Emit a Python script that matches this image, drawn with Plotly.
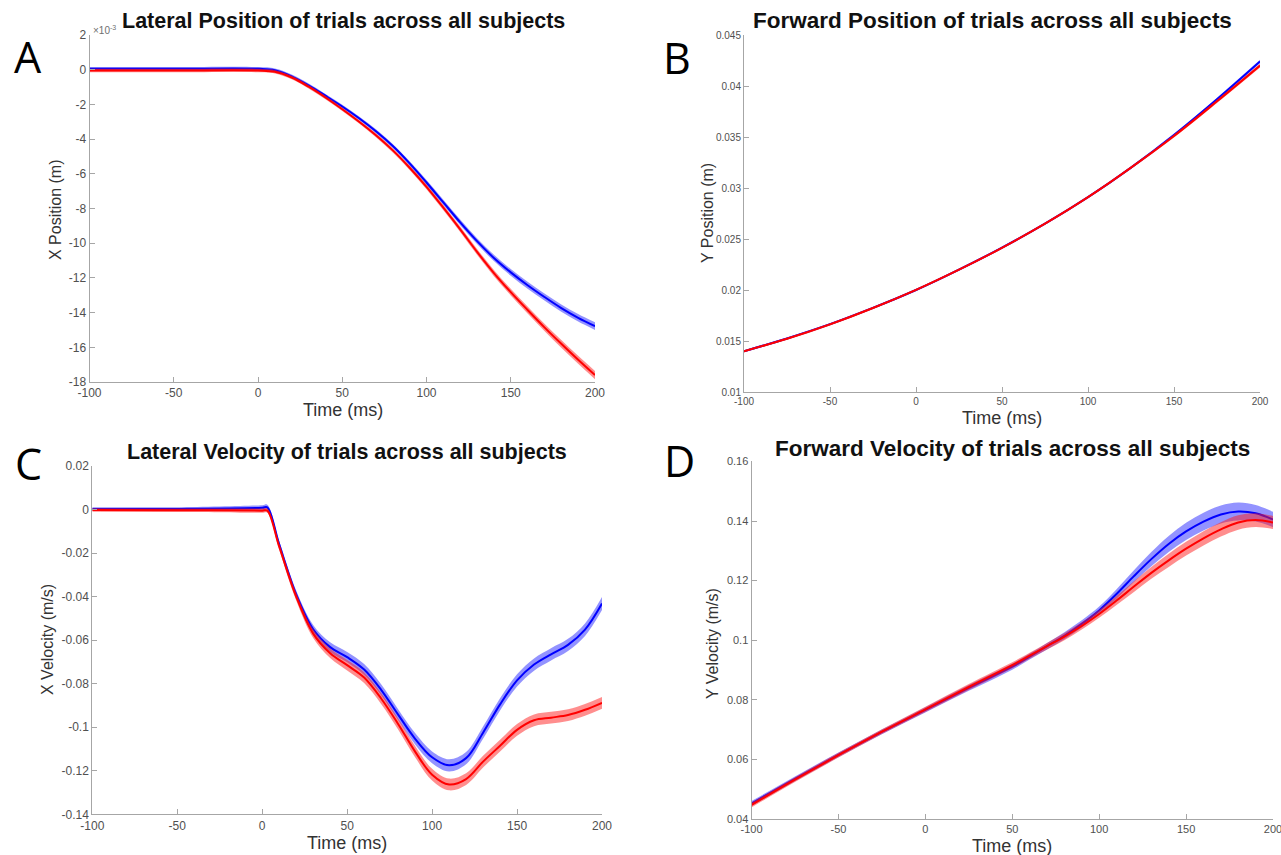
import plotly.graph_objects as go

# ---------------- data ----------------
# Panel A: lateral position (x 10^-3 m)
T_A = [-100, -50, 0, 10, 20, 30, 40, 50, 60, 70, 80, 90, 100, 110, 120, 130, 140, 150, 160, 170, 180, 190, 200]
A_blue = [0.05, 0.05, 0.05, -0.03, -0.38, -0.9, -1.5, -2.12, -2.8, -3.55, -4.4, -5.4, -6.5, -7.65, -8.8, -9.88, -10.85, -11.68, -12.42, -13.1, -13.74, -14.3, -14.78]
A_red = [-0.05, -0.05, -0.05, -0.12, -0.45, -0.98, -1.6, -2.28, -3.0, -3.78, -4.65, -5.65, -6.75, -7.95, -9.2, -10.5, -11.72, -12.82, -13.85, -14.85, -15.8, -16.72, -17.6]
A_blue_sem = [0.1, 0.1, 0.1, 0.1, 0.1, 0.1, 0.1, 0.1, 0.1, 0.12, 0.12, 0.13, 0.14, 0.15, 0.16, 0.17, 0.18, 0.19, 0.2, 0.2, 0.21, 0.22, 0.22]
A_red_sem = [0.1, 0.1, 0.1, 0.1, 0.1, 0.1, 0.1, 0.1, 0.1, 0.12, 0.12, 0.13, 0.14, 0.15, 0.16, 0.17, 0.18, 0.19, 0.2, 0.21, 0.22, 0.23, 0.24]

# Panel B: forward position (m)
T_B = [-100, -75, -50, -25, 0, 25, 50, 75, 100, 125, 150, 175, 200]
B_blue = [0.0140, 0.01525, 0.01665, 0.01825, 0.0200, 0.0220, 0.02415, 0.0265, 0.0291, 0.0320, 0.0352, 0.0387, 0.0424]
B_red = [0.0140, 0.01522, 0.01663, 0.01823, 0.02001, 0.02199, 0.02414, 0.0265, 0.0291, 0.0320, 0.0351, 0.0385, 0.0420]
B_blue_sem = [0.0001, 0.0001, 0.0001, 0.0001, 0.0001, 0.0001, 0.0001, 0.0001, 0.0001, 0.00012, 0.00014, 0.00016, 0.00018]
B_red_sem = [0.0001, 0.0001, 0.0001, 0.0001, 0.0001, 0.0001, 0.0001, 0.0001, 0.0001, 0.00012, 0.00014, 0.00016, 0.00018]

# Panel C: lateral velocity (m/s)
T_C = [-100, -50, 0, 3, 10, 20, 30, 40, 50, 60, 70, 80, 90, 100, 110, 120, 130, 140, 150, 160, 170, 180, 190, 200]
C_blue = [0.0003, 0.0003, 0.0008, 0.001, -0.016, -0.039, -0.055, -0.0632, -0.0678, -0.0735, -0.0828, -0.0942, -0.1053, -0.1138, -0.1175, -0.1142, -0.1025, -0.0895, -0.0785, -0.0712, -0.0665, -0.0622, -0.0552, -0.0432]
C_red = [-0.0002, -0.0003, -0.0005, -0.0005, -0.017, -0.040, -0.057, -0.066, -0.0715, -0.0772, -0.0868, -0.0985, -0.1112, -0.1218, -0.1263, -0.1238, -0.1158, -0.1085, -0.1012, -0.0968, -0.0956, -0.0944, -0.092, -0.0888]
C_blue_sem = [0.0008, 0.0008, 0.0012, 0.0012, 0.0015, 0.0018, 0.002, 0.0022, 0.0024, 0.0025, 0.0025, 0.0025, 0.0026, 0.0027, 0.0028, 0.0028, 0.0028, 0.0028, 0.0028, 0.0028, 0.0028, 0.0028, 0.0029, 0.003]
C_red_sem = [0.0008, 0.0008, 0.001, 0.001, 0.0015, 0.0018, 0.002, 0.0022, 0.0024, 0.0025, 0.0025, 0.0025, 0.0026, 0.0027, 0.0027, 0.0027, 0.0027, 0.0027, 0.0027, 0.0027, 0.0027, 0.0027, 0.0027, 0.0027]

# Panel D: forward velocity (m/s)
T_D = [-100, -75, -50, -25, 0, 25, 50, 60, 70, 80, 90, 100, 110, 120, 130, 140, 150, 160, 170, 180, 190, 200]
D_blue = [0.0452, 0.0535, 0.0615, 0.0692, 0.0766, 0.0840, 0.0911, 0.0945, 0.0980, 0.1015, 0.1055, 0.1100, 0.1155, 0.1215, 0.1272, 0.1323, 0.1365, 0.1398, 0.1422, 0.1432, 0.1426, 0.1405]
D_red = [0.0447, 0.0532, 0.0614, 0.0693, 0.0768, 0.0843, 0.0916, 0.0948, 0.0980, 0.1012, 0.1048, 0.1088, 0.1133, 0.1180, 0.1226, 0.1268, 0.1307, 0.1342, 0.1372, 0.1395, 0.1403, 0.1395]
D_blue_sem = [0.0008, 0.0008, 0.0008, 0.0008, 0.0009, 0.001, 0.001, 0.001, 0.0011, 0.0012, 0.0012, 0.0013, 0.0016, 0.002, 0.0024, 0.0027, 0.0029, 0.003, 0.003, 0.003, 0.0028, 0.0026]
D_red_sem = [0.0008, 0.0008, 0.0008, 0.0008, 0.0009, 0.001, 0.001, 0.001, 0.0011, 0.0012, 0.0012, 0.0013, 0.0015, 0.0018, 0.002, 0.0022, 0.0023, 0.0024, 0.0024, 0.0024, 0.0023, 0.0022]

# tick labels
X_TICKS = [-100, -50, 0, 50, 100, 150, 200]
X_TICKTEXT = ["-100", "-50", "0", "50", "100", "150", "200"]
A_YTICKS = [2, 0, -2, -4, -6, -8, -10, -12, -14, -16, -18]
A_YTEXT = ["2", "0", "-2", "-4", "-6", "-8", "-10", "-12", "-14", "-16", "-18"]
B_YTICKS = [0.01, 0.015, 0.02, 0.025, 0.03, 0.035, 0.04, 0.045]
B_YTEXT = ["0.01", "0.015", "0.02", "0.025", "0.03", "0.035", "0.04", "0.045"]
C_YTICKS = [0.02, 0, -0.02, -0.04, -0.06, -0.08, -0.1, -0.12, -0.14]
C_YTEXT = ["0.02", "0", "-0.02", "-0.04", "-0.06", "-0.08", "-0.1", "-0.12", "-0.14"]
D_YTICKS = [0.04, 0.06, 0.08, 0.1, 0.12, 0.14, 0.16]
D_YTEXT = ["0.04", "0.06", "0.08", "0.1", "0.12", "0.14", "0.16"]

TITLES = ["Lateral Position of trials across all subjects",
          "Forward Position of trials across all subjects",
          "Lateral Velocity of trials across all subjects",
          "Forward Velocity of trials across all subjects"]
YLABELS = ["X Position (m)", "Y Position (m)", "X Velocity (m/s)", "Y Velocity (m/s)"]
XLABEL = "Time (ms)"
LETTERS = ["A", "B", "C", "D"]

# ---------------- figure ----------------
W, H = 1281, 855
def px(x):
    return x / W
def py(y):
    return 1 - y / H

BLUE, RED = "#0000ff", "#ff0000"
BLUE_F, RED_F = "rgba(40,40,255,0.5)", "rgba(255,30,30,0.5)"
FONT = "Liberation Sans, Arial, sans-serif"

fig = go.Figure()

panels = [
    dict(t=T_A, blue=A_blue, red=A_red, bs=A_blue_sem, rs=A_red_sem,
         xd=(89.5, 595), yd=(35, 382), yr=(-18, 2), yt=A_YTICKS, ytt=A_YTEXT, tf=12),
    dict(t=T_B, blue=B_blue, red=B_red, bs=B_blue_sem, rs=B_red_sem,
         xd=(744, 1260), yd=(35, 392), yr=(0.01, 0.045), yt=B_YTICKS, ytt=B_YTEXT, tf=10),
    dict(t=T_C, blue=C_blue, red=C_red, bs=C_blue_sem, rs=C_red_sem,
         xd=(92.3, 602), yd=(466, 814.3), yr=(-0.14, 0.02), yt=C_YTICKS, ytt=C_YTEXT, tf=12),
    dict(t=T_D, blue=D_blue, red=D_red, bs=D_blue_sem, rs=D_red_sem,
         xd=(751.5, 1273), yd=(461.4, 819), yr=(0.04, 0.16), yt=D_YTICKS, ytt=D_YTEXT, tf=11),
]

for i, p in enumerate(panels):
    xa = "x" if i == 0 else f"x{i+1}"
    ya = "y" if i == 0 else f"y{i+1}"
    for vals, sem, lc, fc in [(p["blue"], p["bs"], BLUE, BLUE_F), (p["red"], p["rs"], RED, RED_F)]:
        lo = [v - s for v, s in zip(vals, sem)]
        hi = [v + s for v, s in zip(vals, sem)]
        fig.add_trace(go.Scatter(x=p["t"], y=lo, mode="lines", line=dict(width=0, color=fc, shape="spline", smoothing=1.0),
                                 xaxis=xa, yaxis=ya, showlegend=False, hoverinfo="skip"))
        fig.add_trace(go.Scatter(x=p["t"], y=hi, mode="lines", line=dict(width=0, color=fc, shape="spline", smoothing=1.0),
                                 fill="tonexty", fillcolor=fc,
                                 xaxis=xa, yaxis=ya, showlegend=False, hoverinfo="skip"))
        fig.add_trace(go.Scatter(x=p["t"], y=vals, mode="lines", line=dict(width=2, color=lc, shape="spline", smoothing=1.0),
                                 xaxis=xa, yaxis=ya, showlegend=False))

    axis_common = dict(showline=True, linecolor="#a6a6a6", linewidth=1, ticks="inside", ticklen=5,
                       tickcolor="#a6a6a6", showgrid=False, zeroline=False, automargin=False,
                       ticklabeloverflow="allow",
                       tickfont=dict(family=FONT, size=p["tf"], color="#505050"))
    xkey = "xaxis" if i == 0 else f"xaxis{i+1}"
    ykey = "yaxis" if i == 0 else f"yaxis{i+1}"
    fig.update_layout(**{
        xkey: dict(domain=[px(p["xd"][0]), px(p["xd"][1])], range=[-100, 200], anchor=ya,
                   tickvals=X_TICKS, ticktext=X_TICKTEXT, **axis_common),
        ykey: dict(domain=[py(p["yd"][1]), py(p["yd"][0])], range=list(p["yr"]), anchor=xa,
                   tickvals=p["yt"], ticktext=p["ytt"], **axis_common),
    })

ann = []
# x10^-3 exponent label for panel A
ann.append(dict(x=px(91), y=py(30), xref="paper", yref="paper", text="×10<sup>-3</sup>", showarrow=False,
                xanchor="left", yanchor="middle", font=dict(family=FONT, size=10, color="#707070")))

title_pos = [(343, 21, 21.5), (992, 21, 22.5), (347, 452, 21.5), (1012, 448, 22.5)]
for (x, y, s), t in zip(title_pos, TITLES):
    ann.append(dict(x=px(x), y=py(y), xref="paper", yref="paper", text=f"<b>{t}</b>", showarrow=False,
                    xanchor="center", yanchor="middle",
                    font=dict(family=FONT, size=s, color="#111111")))

ylab_pos = [(55, 210), (707, 213), (47, 640), (712, 643)]
for (x, y), t in zip(ylab_pos, YLABELS):
    ann.append(dict(x=px(x), y=py(y), xref="paper", yref="paper", text=t, showarrow=False, textangle=-90,
                    xanchor="center", yanchor="middle",
                    font=dict(family=FONT, size=16, color="#333333")))

xlab_pos = [(343, 410), (1002, 418), (347, 843), (1012, 846)]
for (x, y) in xlab_pos:
    ann.append(dict(x=px(x), y=py(y), xref="paper", yref="paper", text=XLABEL, showarrow=False,
                    xanchor="center", yanchor="middle",
                    font=dict(family=FONT, size=18, color="#333333")))

letter_pos = [(28, 57), (677, 58), (28, 464), (679, 460)]
for (x, y), t in zip(letter_pos, LETTERS):
    ann.append(dict(x=px(x), y=py(y), xref="paper", yref="paper", text=t, showarrow=False,
                    xanchor="center", yanchor="middle",
                    font=dict(family="Open Sans", size=43, color="#000000")))

fig.update_layout(width=W, height=H, margin=dict(l=0, r=0, t=0, b=0, autoexpand=False),
                  paper_bgcolor="white", plot_bgcolor="white", annotations=ann, showlegend=False)

fig.write_html("out.html", post_script="document.body.style.margin='0';document.body.style.padding='0';")
